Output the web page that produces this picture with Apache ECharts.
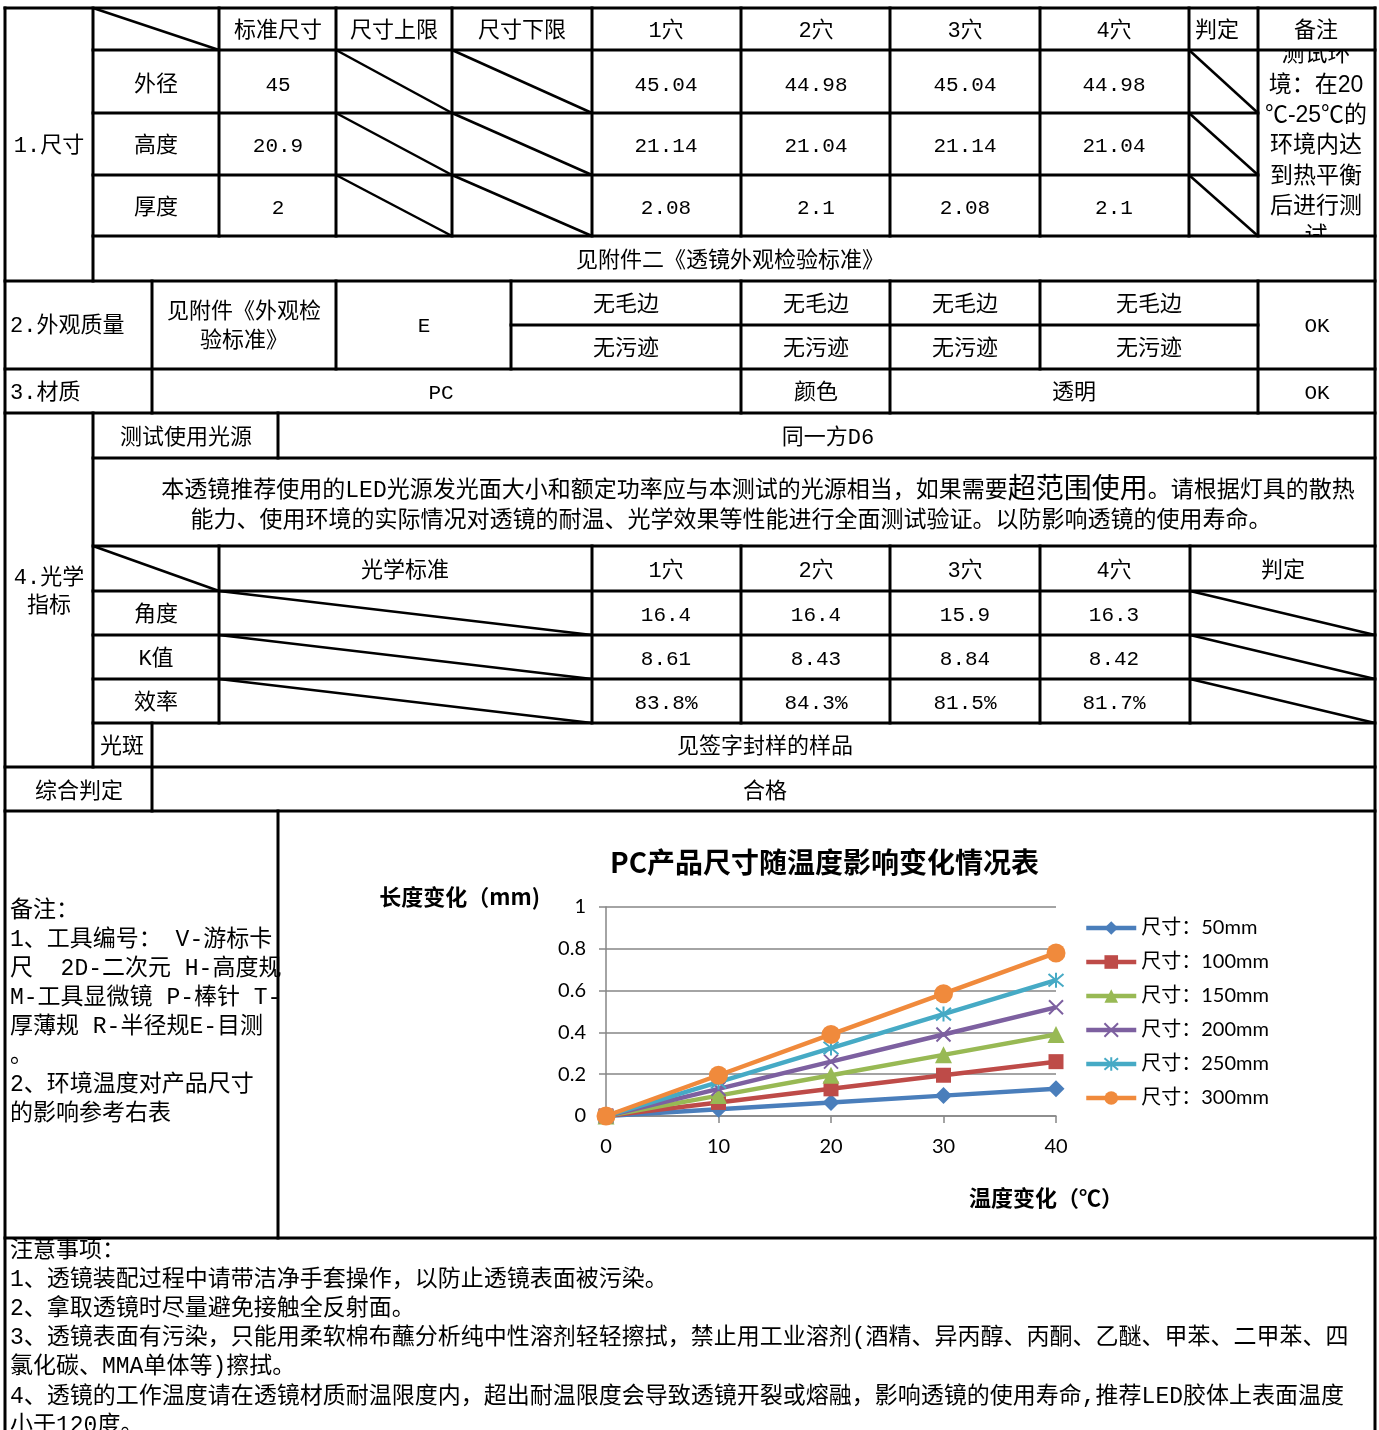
<!DOCTYPE html>
<html><head><meta charset="utf-8">
<script src="https://cdn.jsdelivr.net/npm/echarts@6/dist/echarts.min.js"></script>
<style>html,body{margin:0;padding:0;background:#fff;}#c{width:1379px;height:1430px;}</style>
</head><body><div id="c"></div>
<script>
// ---------- data ----------
const holes = ['1穴', '2穴', '3穴', '4穴'];
const dimHeaders = ['标准尺寸', '尺寸上限', '尺寸下限'];
const dimNames = ['外径', '高度', '厚度'];
const dimStd = ['45', '20.9', '2'];
const dimVals = [
  ['45.04', '44.98', '45.04', '44.98'],
  ['21.14', '21.04', '21.14', '21.04'],
  ['2.08', '2.1', '2.08', '2.1']
];
const remarkCellLines = ['测试环', '境：在20', '℃-25℃的', '环境内达', '到热平衡', '后进行测', '试'];
const appearRow1 = ['无毛边', '无毛边', '无毛边', '无毛边'];
const appearRow2 = ['无污迹', '无污迹', '无污迹', '无污迹'];
const optNames = ['角度', 'K值', '效率'];
const optVals = [
  ['16.4', '16.4', '15.9', '16.3'],
  ['8.61', '8.43', '8.84', '8.42'],
  ['83.8%', '84.3%', '81.5%', '81.7%']
];
const remarkLines = ['备注：', '1、工具编号： V-游标卡', '尺  2D-二次元 H-高度规', 'M-工具显微镜 P-棒针 T-', '厚薄规 R-半径规E-目测', '。', '2、环境温度对产品尺寸', '的影响参考右表'];
const noteLines = [
  '注意事项：',
  '1、透镜装配过程中请带洁净手套操作，以防止透镜表面被污染。',
  '2、拿取透镜时尽量避免接触全反射面。',
  '3、透镜表面有污染，只能用柔软棉布蘸分析纯中性溶剂轻轻擦拭，禁止用工业溶剂(酒精、异丙醇、丙酮、乙醚、甲苯、二甲苯、四',
  '氯化碳、MMA单体等)擦拭。',
  '4、透镜的工作温度请在透镜材质耐温限度内，超出耐温限度会导致透镜开裂或熔融，影响透镜的使用寿命,推荐LED胶体上表面温度',
  '小于120度。'
];
const chartTitle = 'PC产品尺寸随温度影响变化情况表';
const yName = '长度变化（mm)';
const xName = '温度变化（℃）';
const tempC = [0, 10, 20, 30, 40];
const seriesNames = ['尺寸：50mm', '尺寸：100mm', '尺寸：150mm', '尺寸：200mm', '尺寸：250mm', '尺寸：300mm'];
const s50  = [0, 0.0325, 0.065, 0.0975, 0.13];
const s100 = [0, 0.065, 0.13, 0.195, 0.26];
const s150 = [0, 0.0975, 0.195, 0.2925, 0.39];
const s200 = [0, 0.13, 0.26, 0.39, 0.52];
const s250 = [0, 0.1625, 0.325, 0.4875, 0.65];
const s300 = [0, 0.195, 0.39, 0.585, 0.78];

// ---------- layout / styles ----------
const TF = "'Liberation Mono','Noto Sans CJK SC'";
const SF = "'Liberation Sans','Noto Sans CJK SC'";
const CF = "Lato,'Noto Sans CJK SC'";
const G = [];
function hl(y, x1, x2) { G.push({type: 'line', z: 100, shape: {x1: x1, y1: y, x2: x2, y2: y}, style: {stroke: '#000', lineWidth: 3, lineCap: 'square'}}); }
function vl(x, y1, y2) { G.push({type: 'line', z: 100, shape: {x1: x, y1: y1, x2: x, y2: y2}, style: {stroke: '#000', lineWidth: 3, lineCap: 'square'}}); }
function dl(x1, y1, x2, y2) { G.push({type: 'line', z: 99, shape: {x1: x1, y1: y1, x2: x2, y2: y2}, style: {stroke: '#000', lineWidth: 2.5}}); }
function tx(t, x, y, o) {
  o = o || {};
  G.push({type: 'text', z: o.z || 50, x: x, y: y, style: {text: t, fontSize: o.size || 22, fontFamily: o.fam || TF, fontWeight: 'normal', fill: '#000', align: o.align || 'center', verticalAlign: 'middle'}});
}
function mask(x, y, w, h) { G.push({type: 'rect', z: 40, shape: {x: x, y: y, width: w, height: h}, style: {fill: '#fff'}}); }

// outer border
hl(8, 5, 1375); vl(5, 8, 1430); vl(1375, 8, 1430);
// section 1
vl(93, 8, 281);
hl(50, 93, 1375); hl(113, 93, 1258); hl(175, 93, 1258); hl(236, 93, 1375);
[219, 336, 452, 592, 741, 890, 1040, 1189, 1258].forEach(function (x) { vl(x, 8, 236); });
hl(281, 5, 1375);
// section 2/3
vl(152, 281, 413); vl(336, 281, 369); vl(511, 281, 369); vl(741, 281, 413); vl(890, 281, 413); vl(1040, 281, 369); vl(1258, 281, 413);
hl(325, 511, 1258); hl(369, 5, 1375); hl(413, 5, 1375);
// section 4
vl(93, 413, 767); hl(458, 93, 1375); vl(278, 413, 458); hl(546, 93, 1375);
[219, 592, 741, 890, 1040, 1190].forEach(function (x) { vl(x, 546, 723); });
hl(591, 93, 1375); hl(635, 93, 1375); hl(679, 93, 1375); hl(723, 93, 1375);
vl(152, 723, 811); hl(767, 5, 1375); hl(811, 5, 1375);
vl(278, 811, 1238); hl(1238, 5, 1375);

// diagonals
dl(93, 8, 219, 50);
const rows1 = [[50, 113], [113, 175], [175, 236]];
rows1.forEach(function (r) { dl(336, r[0], 452, r[1]); dl(452, r[0], 592, r[1]); dl(1189, r[0], 1258, r[1]); });
dl(93, 546, 219, 591);
const rows4 = [[591, 635], [635, 679], [679, 723]];
rows4.forEach(function (r) { dl(219, r[0], 592, r[1]); dl(1190, r[0], 1375, r[1]); });

// section 1 texts
const holeX = [666, 816, 965, 1114];
const dimHX = [278, 394, 522];
tx('1.尺寸', 49, 146);
dimHeaders.forEach(function (t, i) { tx(t, dimHX[i], 31); });
holes.forEach(function (t, i) { tx(t, holeX[i], 31); });
tx('判定', 1217, 31);
tx('备注', 1316, 31);
const rowY1 = [85, 146, 208];
dimNames.forEach(function (t, i) { tx(t, 156, rowY1[i]); });
dimStd.forEach(function (t, i) { tx(t, 278, rowY1[i], {size: 21}); });
dimVals.forEach(function (row, i) { row.forEach(function (v, j) { tx(v, holeX[j], rowY1[i], {size: 21}); }); });
remarkCellLines.forEach(function (t, i) { tx(t, 1316, 55 + i * 30.3, {size: 23, fam: SF, z: 30}); });
mask(1259, 9, 115, 40);
mask(1259, 237, 115, 43);
tx('见附件二《透镜外观检验标准》', 730, 261);

// section 2/3 texts
tx('2.外观质量', 10, 326, {align: 'left'});
tx('见附件《外观检', 244, 312);
tx('验标准》', 244, 341);
tx('E', 424, 326, {size: 21});
const appX = [626, 816, 965, 1149];
appearRow1.forEach(function (t, i) { tx(t, appX[i], 305); });
appearRow2.forEach(function (t, i) { tx(t, appX[i], 349); });
tx('OK', 1317, 326, {size: 21});
tx('3.材质', 10, 393, {align: 'left'});
tx('PC', 441, 393, {size: 21});
tx('颜色', 816, 393);
tx('透明', 1074, 393);
tx('OK', 1317, 393, {size: 21});

// section 4 texts
tx('4.光学', 49, 578);
tx('指标', 49, 606);
tx('测试使用光源', 186, 438);
tx('同一方D6', 828, 438);
G.push({type: 'text', z: 50, x: 758, y: 491, style: {
  text: '{a|本透镜推荐使用的LED光源发光面大小和额定功率应与本测试的光源相当，如果需要}{b|超范围使用}{a|。请根据灯具的散热}',
  rich: {a: {fontSize: 23, fontFamily: TF, fill: '#000'}, b: {fontSize: 28, fontFamily: TF, fill: '#000'}},
  align: 'center', verticalAlign: 'middle'}});
G.push({type: 'text', z: 50, x: 731, y: 521, style: {
  text: '能力、使用环境的实际情况对透镜的耐温、光学效果等性能进行全面测试验证。以防影响透镜的使用寿命。',
  fontSize: 23, fontFamily: TF, fill: '#000', align: 'center', verticalAlign: 'middle'}});
tx('光学标准', 405, 571);
holes.forEach(function (t, i) { tx(t, holeX[i], 571); });
tx('判定', 1283, 571);
const rowY4 = [615, 659, 703];
optNames.forEach(function (t, i) { tx(t, 156, rowY4[i]); });
optVals.forEach(function (row, i) { row.forEach(function (v, j) { tx(v, holeX[j], rowY4[i], {size: 21}); }); });
tx('光斑', 100, 747, {align: 'left'});
tx('见签字封样的样品', 765, 747);
tx('综合判定', 79, 792);
tx('合格', 765, 792);

// remarks and notes
remarkLines.forEach(function (t, i) { tx(t, 10, 911 + i * 29, {align: 'left', size: 23}); });
noteLines.forEach(function (t, i) { tx(t, 10, 1251 + i * 29.1, {align: 'left', size: 23}); });

// ---------- chart ----------
const colors = ['#4A7EBB', '#BE4B48', '#98B954', '#7D60A0', '#46AAC5', '#F08A3C'];
const symbols = ['diamond', 'rect', 'triangle', 'path://M0,0L10,10M10,0L0,10', 'path://M0,0L10,10M10,0L0,10M5,-1L5,11', 'circle'];
const sizes = [17, 15, 17, 14, 15, 19];
const allVals = [s50, s100, s150, s200, s250, s300];
const series = allVals.map(function (vals, i) {
  const stroked = i === 3 || i === 4;
  return {
    name: seriesNames[i], type: 'line',
    data: tempC.map(function (t, k) { return [t, vals[k]]; }),
    symbol: symbols[i], symbolSize: sizes[i], showAllSymbol: true,
    lineStyle: {color: colors[i], width: 4.5},
    itemStyle: stroked ? {color: colors[i], borderColor: colors[i], borderWidth: 2} : {color: colors[i]},
    z: 2 + i
  };
});

const chart = echarts.init(document.getElementById('c'), null, {renderer: 'canvas'});
chart.setOption({
  animation: false,
  backgroundColor: '#fff',
  color: colors,
  title: {text: chartTitle, left: 610, top: 848, padding: 0,
    textStyle: {fontSize: 28, fontWeight: 'bold', fontFamily: "'Noto Sans CJK SC'", color: '#000'}},
  legend: {orient: 'vertical', left: 1079, top: 913, itemWidth: 50, itemHeight: 17, itemGap: 14,
    lineStyle: {width: 4.5},
    textStyle: {fontSize: 20, fontFamily: CF, color: '#000', lineHeight: 20}, data: seriesNames},
  grid: {left: 606, top: 907, width: 450, height: 209, outerBoundsMode: 'none'},
  xAxis: {type: 'value', min: 0, max: 40, interval: 10,
    name: xName, nameLocation: 'middle', nameGap: 71, nameMoveOverlap: false,
    nameTextStyle: {fontSize: 22, fontWeight: 'bold', fontFamily: "'Noto Sans CJK SC'", color: '#000', padding: [0, 0, 0, 430]},
    axisLine: {show: true, lineStyle: {color: '#868686', width: 1.5}},
    axisTick: {show: true, length: 7, lineStyle: {color: '#868686', width: 1.5}},
    axisLabel: {margin: 21, fontSize: 20, fontFamily: CF, color: '#000'},
    splitLine: {show: false}},
  yAxis: {type: 'value', min: 0, max: 1, interval: 0.2,
    name: yName, nameLocation: 'end', nameGap: 10, nameMoveOverlap: false,
    nameTextStyle: {fontSize: 22, fontWeight: 'bold', fontFamily: "'Noto Sans CJK SC'", color: '#000', align: 'right', verticalAlign: 'middle', padding: [0, 66, 0, 0]},
    axisLine: {show: true, lineStyle: {color: '#868686', width: 1.5}},
    axisTick: {show: true, length: 7, lineStyle: {color: '#868686', width: 1.5}},
    axisLabel: {margin: 20, fontSize: 20, fontFamily: CF, color: '#000'},
    splitLine: {show: true, lineStyle: {color: '#868686', width: 1.5}}},
  series: series,
  graphic: {elements: G}
});
</script></body></html>
